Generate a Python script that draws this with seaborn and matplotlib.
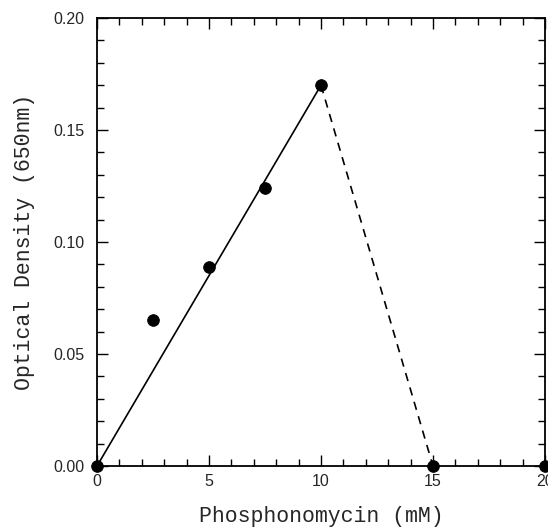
import matplotlib
matplotlib.use('Agg')
import matplotlib.pyplot as plt
import seaborn as sns
from matplotlib.ticker import MultipleLocator

# Measured points
conc = [0, 2.5, 5.0, 7.5, 10.0, 15.0, 20.0]
od = [0.0, 0.065, 0.089, 0.124, 0.170, 0.0, 0.0]

# Fitted lines
fit_x = [0, 10.0]
fit_y = [0.0, 0.170]
drop_x = [10.0, 15.0]
drop_y = [0.170, 0.0]

sns.set_style('ticks')
plt.rcParams['font.family'] = ['Liberation Sans', 'DejaVu Sans']

fig = plt.figure(figsize=(5.48, 5.29), dpi=100)
ax = fig.add_axes([0.177, 0.119, 0.8175, 0.847])

sns.lineplot(x=fit_x, y=fit_y, ax=ax, color='black', lw=1.2)
sns.lineplot(x=drop_x, y=drop_y, ax=ax, color='black', lw=1.2, linestyle=(0, (5, 4)))
sns.scatterplot(x=conc, y=od, ax=ax, color='black', s=70, edgecolor='black', zorder=5, clip_on=False)

ax.set_xlim(0, 20)
ax.set_ylim(0, 0.20)
ax.xaxis.set_major_locator(MultipleLocator(5))
ax.xaxis.set_minor_locator(MultipleLocator(1))
ax.yaxis.set_major_locator(MultipleLocator(0.05))
ax.yaxis.set_minor_locator(MultipleLocator(0.01))
ax.yaxis.set_major_formatter(plt.FormatStrFormatter('%.2f'))
ax.tick_params(which='both', direction='in', top=True, right=True, labelsize=11.5, color='black')
ax.tick_params(which='major', length=8, width=1)
ax.tick_params(which='minor', length=5, width=1)
ax.tick_params(axis='y', which='major', pad=9)
ax.tick_params(axis='x', which='major', pad=6)
for sp in ax.spines.values():
    sp.set_linewidth(1.3)
    sp.set_color('black')

ax.set_xlabel('Phosphonomycin (mM)', family='Liberation Mono', fontsize=15.5, labelpad=12)
ax.set_ylabel('Optical Density (650nm)', family='Liberation Mono', fontsize=15.5, labelpad=13)

plt.savefig('out.png', dpi=100)
